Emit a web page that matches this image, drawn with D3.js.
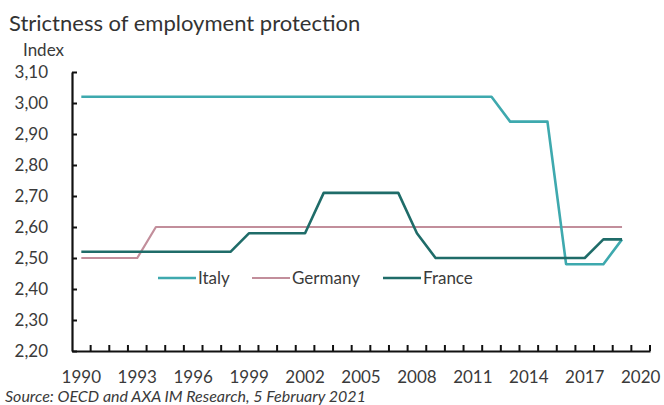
<!DOCTYPE html>
<html>
<head>
<meta charset="utf-8">
<script src="https://cdn.jsdelivr.net/npm/d3@7"></script>
<style>
  html, body { margin: 0; padding: 0; background: #fff; }
  svg { display: block; }
  text { font-family: Lato, "Open Sans", sans-serif; fill: #3a3a3a; }
</style>
</head>
<body>
<svg id="chart" width="664" height="405"></svg>
<script>
// Employment protection index, by year
const years = [1990, 1991, 1992, 1993, 1994, 1995, 1996, 1997, 1998, 1999,
               2000, 2001, 2002, 2003, 2004, 2005, 2006, 2007, 2008, 2009,
               2010, 2011, 2012, 2013, 2014, 2015, 2016, 2017, 2018, 2019];
const italy = [3.02, 3.02, 3.02, 3.02, 3.02, 3.02, 3.02, 3.02, 3.02, 3.02,
               3.02, 3.02, 3.02, 3.02, 3.02, 3.02, 3.02, 3.02, 3.02, 3.02,
               3.02, 3.02, 3.02, 2.94, 2.94, 2.94, 2.48, 2.48, 2.48, 2.56];
const germany = [2.50, 2.50, 2.50, 2.50, 2.60, 2.60, 2.60, 2.60, 2.60, 2.60,
                 2.60, 2.60, 2.60, 2.60, 2.60, 2.60, 2.60, 2.60, 2.60, 2.60,
                 2.60, 2.60, 2.60, 2.60, 2.60, 2.60, 2.60, 2.60, 2.60, 2.60];
const france = [2.52, 2.52, 2.52, 2.52, 2.52, 2.52, 2.52, 2.52, 2.52, 2.58,
                2.58, 2.58, 2.58, 2.71, 2.71, 2.71, 2.71, 2.71, 2.58, 2.50,
                2.50, 2.50, 2.50, 2.50, 2.50, 2.50, 2.50, 2.50, 2.56, 2.56];

// Axis: one category per year, up to 2020
const axisYears = years.concat([2020]);
const xTickLabels = [1990, 1993, 1996, 1999, 2002, 2005, 2008, 2011, 2014, 2017, 2020];
const yTicks = [2.2, 2.3, 2.4, 2.5, 2.6, 2.7, 2.8, 2.9, 3.0, 3.1];

const seriesColors = { Italy: "#3ea9ae", Germany: "#c28e9b", France: "#1f6c69" };
const seriesWidths = { Italy: 2.6, Germany: 2.2, France: 2.6 };
const seriesData = { Italy: italy, Germany: germany, France: france };

const svg = d3.select("#chart");
const plotLeft = 72, plotRight = 650, plotTop = 72, plotBottom = 351;

const x = d3.scaleBand().domain(axisYears).range([plotLeft, plotRight]).padding(0);
const y = d3.scaleLinear().domain([2.2, 3.1]).range([plotBottom, plotTop]);
const cx = yr => x(yr) + x.bandwidth() / 2;

const commaLocale = d3.formatLocale({ decimal: ",", thousands: ".", grouping: [3], currency: ["", ""] });
const fmt = commaLocale.format(".2f");

// Title and unit
svg.append("text")
  .attr("x", 9).attr("y", 31)
  .style("font-size", "22px")
  .style("fill", "#333")
  .text("Strictness of employment protection");
svg.append("text")
  .attr("x", 23).attr("y", 56)
  .style("font-size", "17px")
  .text("Index");

// Y axis
const yAxis = svg.append("g")
  .attr("transform", `translate(${plotLeft},0)`)
  .call(d3.axisLeft(y).tickValues(yTicks).tickFormat(fmt)
        .tickSizeInner(-5).tickSizeOuter(0).tickPadding(24));
yAxis.select(".domain").attr("stroke", "#111").attr("stroke-width", 2.2);
yAxis.selectAll(".tick line").attr("stroke", "#111").attr("stroke-width", 2);
yAxis.selectAll(".tick text")
  .style("font-family", "Lato, sans-serif")
  .style("font-size", "17px").attr("fill", "#3a3a3a");

// X axis: labels at category centres, ticks on category boundaries
const xAxis = svg.append("g")
  .attr("transform", `translate(0,${plotBottom})`)
  .call(d3.axisBottom(x).tickValues(xTickLabels).tickSize(0).tickPadding(20));
xAxis.select(".domain").attr("stroke", "#111").attr("stroke-width", 2.2);
xAxis.selectAll(".tick text")
  .style("font-family", "Lato, sans-serif")
  .style("font-size", "17px").attr("fill", "#3a3a3a");
xAxis.selectAll("line.boundary")
  .data(axisYears)
  .join("line")
  .attr("class", "boundary")
  .attr("x1", d => x(d) + x.bandwidth())
  .attr("x2", d => x(d) + x.bandwidth())
  .attr("y1", 0).attr("y2", -6)
  .attr("stroke", "#111").attr("stroke-width", 2);

// Series lines
const line = d3.line()
  .x((d, i) => cx(years[i]))
  .y(d => y(d));

["Germany", "Italy", "France"].forEach(name => {
  svg.append("path")
    .datum(seriesData[name])
    .attr("d", line)
    .attr("fill", "none")
    .attr("stroke", seriesColors[name])
    .attr("stroke-width", seriesWidths[name])
    .attr("stroke-linejoin", "round");
});

// Legend
const legendItems = [
  { name: "Italy", x0: 158 },
  { name: "Germany", x0: 252 },
  { name: "France", x0: 383 }
];
const lg = svg.append("g");
legendItems.forEach(it => {
  lg.append("line")
    .attr("x1", it.x0).attr("x2", it.x0 + 38)
    .attr("y1", 278).attr("y2", 278)
    .attr("stroke", seriesColors[it.name])
    .attr("stroke-width", seriesWidths[it.name]);
  lg.append("text")
    .attr("x", it.x0 + 40).attr("y", 284)
    .style("font-size", "17px")
    .text(it.name);
});

// Source note
svg.append("text")
  .attr("x", 5).attr("y", 402)
  .style("font-size", "16px")
  .style("font-style", "italic")
  .text("Source: OECD and AXA IM Research, 5 February 2021");
</script>
</body>
</html>
